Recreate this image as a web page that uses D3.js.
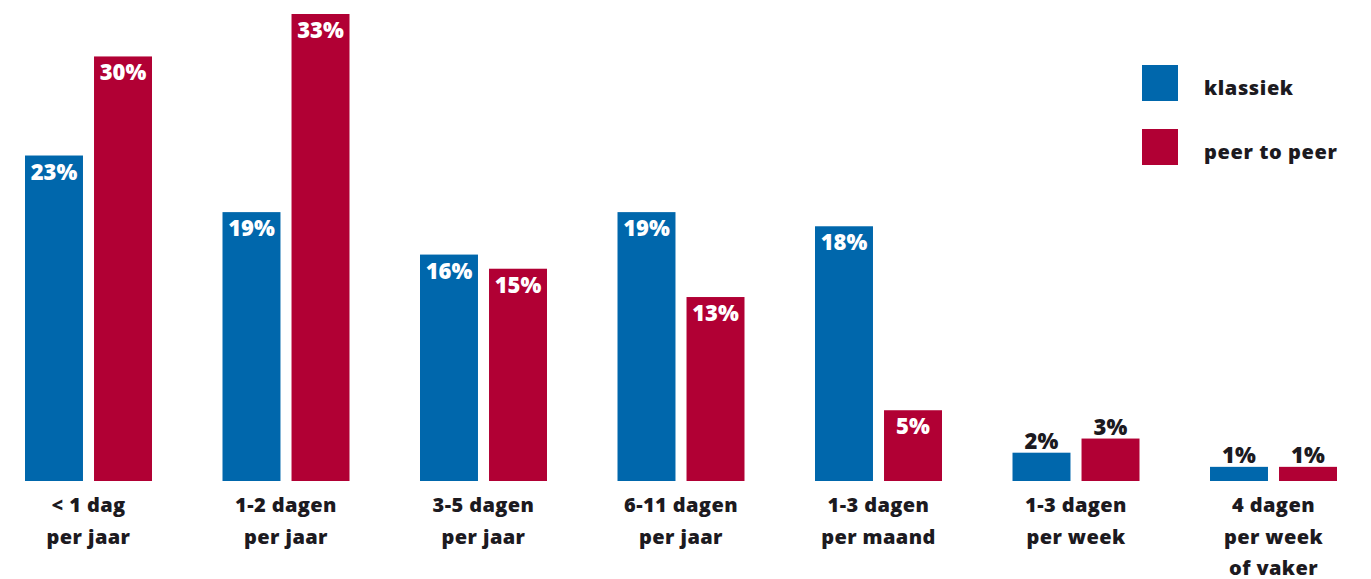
<!DOCTYPE html>
<html>
<head>
<meta charset="utf-8">
<script src="https://cdn.jsdelivr.net/npm/d3@7"></script>
<style>
  body { margin: 0; background: #fff; }
  text { font-family: "Open Sans", "Lato", sans-serif; font-weight: 800; }
</style>
</head>
<body>
<div id="chart"></div>
<script>
/* DATA */
const categories = [
  ["< 1 dag", "per jaar"],
  ["1-2 dagen", "per jaar"],
  ["3-5 dagen", "per jaar"],
  ["6-11 dagen", "per jaar"],
  ["1-3 dagen", "per maand"],
  ["1-3 dagen", "per week"],
  ["4 dagen", "per week", "of vaker"]
];
const seriesNames = ["klassiek", "peer to peer"];
const klassiek = [23, 19, 16, 19, 18, 2, 1];
const peerToPeer = [30, 33, 15, 13, 5, 3, 1];

/* CONSTANTS */
const width = 1371,
  height = 579,
  margin = { top: 14, bottom: 98, left: 25, right: 34 },
  colors = ["#0067ac", "#b10034"],
  textColor = "#1c1a1f";

const svg = d3.select("#chart")
  .append("svg")
  .attr("width", width)
  .attr("height", height);

// + SCALES
const xScale = d3.scaleBand()
  .domain(d3.range(categories.length))
  .range([margin.left, width - margin.right])
  .paddingInner(0.357)
  .paddingOuter(0);

const xInner = d3.scaleBand()
  .domain(seriesNames)
  .range([0, xScale.bandwidth()])
  .paddingInner(0.16);

const yScale = d3.scaleLinear()
  .domain([0, 33])
  .range([height - margin.bottom, margin.top]);

const rows = categories.flatMap((c, i) => [
  { i, s: seriesNames[0], v: klassiek[i], c: colors[0] },
  { i, s: seriesNames[1], v: peerToPeer[i], c: colors[1] }
]);

// + BARS
const bars = svg.append("g").attr("class", "bars")
  .selectAll("g")
  .data(rows)
  .join("g")
  .attr("transform", d => `translate(${xScale(d.i) + xInner(d.s)},0)`);

bars.append("rect")
  .attr("y", d => yScale(d.v))
  .attr("width", xInner.bandwidth())
  .attr("height", d => yScale(0) - yScale(d.v))
  .attr("fill", d => d.c);

// value labels: inside for tall bars, above for short ones
bars.append("text")
  .attr("x", xInner.bandwidth() / 2)
  .attr("y", d => d.v >= 5 ? yScale(d.v) + 24 : yScale(d.v) - 4)
  .attr("text-anchor", "middle")
  .attr("font-size", 22)
  .attr("fill", d => d.v >= 5 ? "#fff" : textColor)
  .text(d => d.v + "%");

// + CATEGORY LABELS
const catLabels = svg.append("g").attr("class", "x-labels")
  .selectAll("text")
  .data(categories)
  .join("text")
  .attr("x", (d, i) => xScale(i) + xScale.bandwidth() / 2)
  .attr("y", yScale(0) + 31)
  .attr("text-anchor", "middle")
  .attr("font-size", 20)
  .attr("letter-spacing", 0.4)
  .attr("fill", textColor);

catLabels.selectAll("tspan")
  .data(d => d)
  .join("tspan")
  .attr("x", function () { return this.parentNode.getAttribute("x"); })
  .attr("dy", (d, j) => j === 0 ? 0 : 31.5)
  .text(d => d);

// + LEGEND
const legend = svg.append("g").attr("class", "legend")
  .selectAll("g")
  .data(seriesNames)
  .join("g")
  .attr("transform", (d, i) => `translate(1142,${65 + i * 64})`);

legend.append("rect")
  .attr("width", 36)
  .attr("height", 36)
  .attr("fill", (d, i) => colors[i]);

legend.append("text")
  .attr("x", 62)
  .attr("y", 30)
  .attr("font-size", 20)
  .attr("letter-spacing", 0.6)
  .attr("fill", textColor)
  .text(d => d);
</script>
</body>
</html>
